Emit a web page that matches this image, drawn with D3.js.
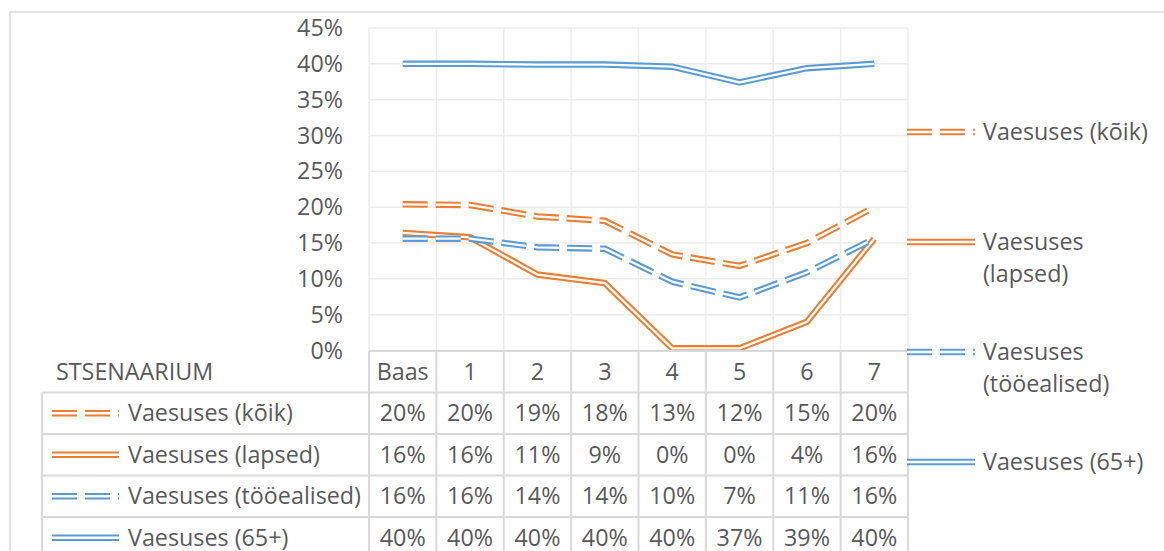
<!DOCTYPE html>
<html>
<head>
<meta charset="utf-8">
<script src="https://cdn.jsdelivr.net/npm/d3@7"></script>
<style>
	body { margin: 0; background: #fff; }
	svg text { font-family: "Open Sans", sans-serif; fill: #595959; }
</style>
</head>
<body>
<div id="chart"></div>
<script>
// DATA
const categories = ["Baas", "1", "2", "3", "4", "5", "6", "7"];
const seriesNames = ["Vaesuses (kõik)", "Vaesuses (lapsed)", "Vaesuses (tööealised)", "Vaesuses (65+)"];
const koik = [20.4, 20.3, 18.7, 18.1, 13.4, 11.8, 15.0, 20.0];
const lapsed = [16.4, 15.8, 10.6, 9.4, 0.3, 0.3, 4.0, 15.6];
const tooealised = [15.6, 15.6, 14.4, 14.2, 9.6, 7.4, 10.9, 15.6];
const vanad = [40.0, 40.0, 39.9, 39.9, 39.6, 37.4, 39.4, 40.0];
const yTicks = [0, 5, 10, 15, 20, 25, 30, 35, 40, 45];

// SVG DIMENSIONS
const width = 1164;
const height = 551;
const svg = d3.select("#chart")
	.append("svg")
	.attr("width", width)
	.attr("height", height);

const orange = "#ED7D31";
const blue = "#5B9BD5";
const gridColor = "#ececec";
const tableColor = "#d9d9d9";
const fontSize = 23.3;

const series = [
	{ name: seriesNames[0], values: koik, color: orange, dashed: true },
	{ name: seriesNames[1], values: lapsed, color: orange, dashed: false },
	{ name: seriesNames[2], values: tooealised, color: blue, dashed: true },
	{ name: seriesNames[3], values: vanad, color: blue, dashed: false }
];

// SCALES
const x = d3.scaleBand().domain(categories).range([369, 908]).padding(0);
const y = d3.scaleLinear().domain([0, 45]).range([350.5, 28]);
const xc = c => x(c) + x.bandwidth() / 2;

// chart border (partly visible)
svg.append("path")
	.attr("d", `M10,${height} L10,12 L${width},12`)
	.attr("fill", "none")
	.attr("stroke", tableColor)
	.attr("stroke-width", 1.5);

// GRID
svg.append("g")
	.selectAll("line")
	.data(yTicks)
	.enter()
	.append("line")
		.attr("x1", 369).attr("x2", 908)
		.attr("y1", d => y(d)).attr("y2", d => y(d))
		.attr("stroke", gridColor)
		.attr("stroke-width", 1.5);
svg.append("g")
	.selectAll("line")
	.data(categories.map(c => x(c)).concat([908]))
	.enter()
	.append("line")
		.attr("x1", d => d).attr("x2", d => d)
		.attr("y1", y(45)).attr("y2", y(0))
		.attr("stroke", gridColor)
		.attr("stroke-width", 1.5);

// Y AXIS LABELS
svg.append("g")
	.selectAll("text")
	.data(yTicks)
	.enter()
	.append("text")
		.attr("x", 343)
		.attr("y", d => y(d))
		.attr("dy", "0.35em")
		.attr("text-anchor", "end")
		.style("font-size", fontSize + "px")
		.text(d => d + "%");

// double (compound) line helper
function doubleLine(g, pathD, s) {
	const dash = s.dashed ? "25,8" : null;
	g.append("path")
		.attr("d", pathD)
		.attr("fill", "none")
		.attr("stroke", s.color)
		.attr("stroke-width", 6.5)
		.attr("stroke-dasharray", dash);
	g.append("path")
		.attr("d", pathD)
		.attr("fill", "none")
		.attr("stroke", "#fff")
		.attr("stroke-width", 2.3)
		.attr("stroke-dasharray", dash);
}

// LINES
const line = d3.line()
	.x((d, i) => xc(categories[i]))
	.y(d => y(d));
series.forEach(s => doubleLine(svg.append("g"), line(s.values), s));

// DATA TABLE
const rowTop = 351;
const rowH = 41.5;
const tbl = svg.append("g");
// horizontal rules
tbl.append("line")
	.attr("x1", 369).attr("x2", 908)
	.attr("y1", rowTop).attr("y2", rowTop)
	.attr("stroke", tableColor).attr("stroke-width", 2);
d3.range(1, 5).forEach(r => {
	tbl.append("line")
		.attr("x1", 42).attr("x2", 908)
		.attr("y1", rowTop + r * rowH).attr("y2", rowTop + r * rowH)
		.attr("stroke", tableColor).attr("stroke-width", 2);
});
// vertical rules
tbl.append("line")
	.attr("x1", 42).attr("x2", 42)
	.attr("y1", rowTop + rowH).attr("y2", height)
	.attr("stroke", tableColor).attr("stroke-width", 2);
categories.map(c => x(c)).concat([908]).forEach(xx => {
	tbl.append("line")
		.attr("x1", xx).attr("x2", xx)
		.attr("y1", rowTop).attr("y2", height)
		.attr("stroke", tableColor).attr("stroke-width", 2);
});
// header
tbl.append("text")
	.attr("x", 56)
	.attr("y", rowTop + rowH / 2)
	.attr("dy", "0.35em")
	.style("font-size", fontSize + "px")
	.text("STSENAARIUM");
tbl.selectAll("text.cat")
	.data(categories)
	.enter()
	.append("text")
		.attr("class", "cat")
		.attr("x", d => xc(d))
		.attr("y", rowTop + rowH / 2)
		.attr("dy", "0.35em")
		.attr("text-anchor", "middle")
		.style("font-size", fontSize + "px")
		.text(d => d);
// rows
series.forEach((s, r) => {
	const cy = rowTop + (r + 1.5) * rowH;
	doubleLine(tbl.append("g"), `M52,${cy} L119,${cy}`, s);
	tbl.append("text")
		.attr("x", 128)
		.attr("y", cy)
		.attr("dy", "0.35em")
		.style("font-size", fontSize + "px")
		.text(s.name);
	tbl.append("g")
		.selectAll("text")
		.data(s.values)
		.enter()
		.append("text")
			.attr("x", (d, i) => xc(categories[i]))
			.attr("y", cy)
			.attr("dy", "0.35em")
			.attr("text-anchor", "middle")
			.style("font-size", fontSize + "px")
			.text(d => Math.round(d) + "%");
});

// RIGHT LEGEND
const legendItems = [
	{ s: series[0], y: 132, lines: ["Vaesuses (kõik)"] },
	{ s: series[1], y: 242, lines: ["Vaesuses", "(lapsed)"] },
	{ s: series[2], y: 352, lines: ["Vaesuses", "(tööealised)"] },
	{ s: series[3], y: 462, lines: ["Vaesuses (65+)"] }
];
legendItems.forEach(item => {
	const g = svg.append("g");
	doubleLine(g, `M907,${item.y} L975,${item.y}`, item.s);
	item.lines.forEach((t, i) => {
		g.append("text")
			.attr("x", 983)
			.attr("y", item.y + i * 32)
			.attr("dy", "0.35em")
			.style("font-size", fontSize + "px")
			.text(t);
	});
});
</script>
</body>
</html>
